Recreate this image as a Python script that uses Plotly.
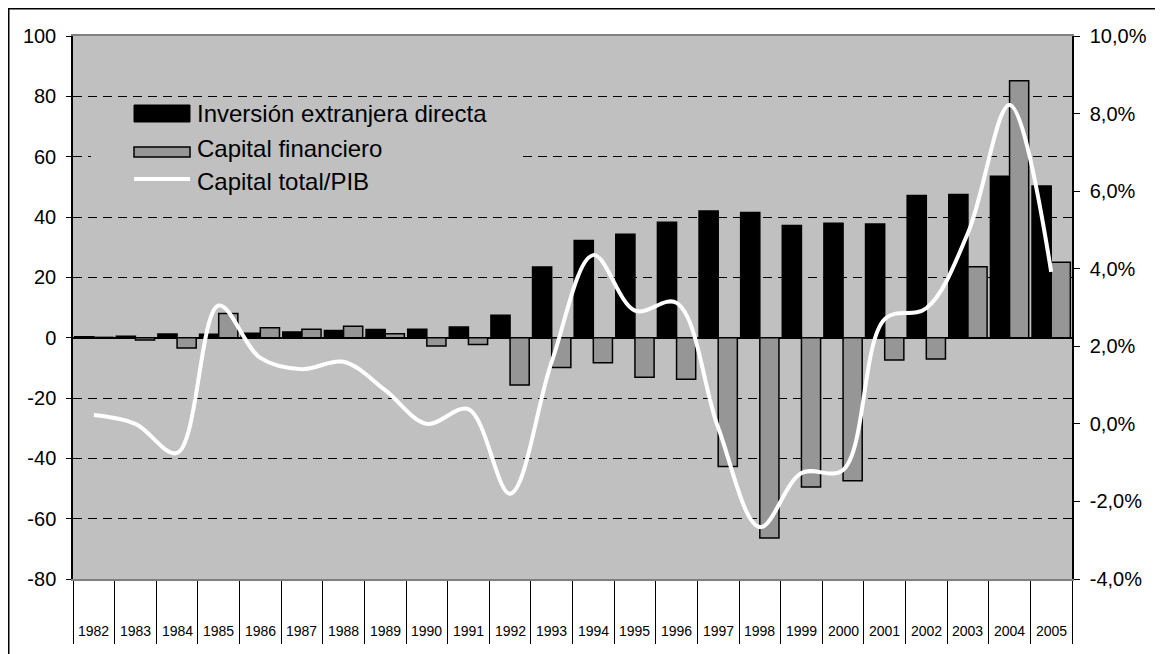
import plotly.graph_objects as go

years = [str(y) for y in range(1982, 2006)]
ied = [0.3, 0.5, 1.2, 1.1, 1.5, 1.9, 2.4, 2.7, 2.8, 3.5, 7.4, 23.4, 32.2, 34.3,
       38.3, 42.0, 41.5, 37.2, 37.9, 37.7, 47.1, 47.5, 53.5, 50.3]
cap_fin = [0.1, -0.8, -3.4, 8.0, 3.3, 2.8, 3.8, 1.3, -2.8, -2.3, -15.7, -9.9, -8.3,
           -13.1, -13.8, -42.7, -66.4, -49.5, -47.4, -7.4, -7.1, 23.5, 85.2, 25.0]
cap_total_pib = [0.23, 0.0, -0.75, 3.05, 1.7, 1.41, 1.6, 0.87, 0.0, 0.38, -1.8, 1.6,
                 4.35, 2.92, 3.12, -0.1, -2.66, -1.27, -1.19, 2.7, 2.98, 4.92, 8.22, 3.92]

left_ticks = [-80, -60, -40, -20, 0, 20, 40, 60, 80, 100]
left_labels = ["-80", "-60", "-40", "-20", "0", "20", "40", "60", "80", "100"]
right_ticks = [-4, -2, 0, 2, 4, 6, 8, 10]
right_labels = ["-4,0%", "-2,0%", "0,0%", "2,0%", "4,0%", "6,0%", "8,0%", "10,0%"]

names = ["Inversión extranjera directa", "Capital financiero", "Capital total/PIB"]

FONT = "Liberation Sans, Arial, sans-serif"
OFF = 8  # page body margin
W, H = 1155, 646
L, R, T, B = 65, 91, 28, 75
PW, PH = W - L - R, H - T - B


def px(x):  # screen x -> paper
    return (x - OFF - L) / PW


def py(y):  # screen y -> paper
    return (H - B - (y - OFF)) / PH


fig = go.Figure()
fig.add_trace(go.Bar(x=years, y=ied, name=names[0],
                     marker=dict(color="#000000", line=dict(color="#000000", width=1.5)), yaxis="y"))
fig.add_trace(go.Bar(x=years, y=cap_fin, name=names[1],
                     marker=dict(color="#969696", line=dict(color="#000000", width=1.5)), yaxis="y"))
fig.add_trace(go.Scatter(x=years, y=cap_total_pib, name=names[2], mode="lines",
                         line=dict(color="#FFFFFF", width=4, shape="spline", smoothing=1.0),
                         yaxis="y2"))

shapes = [
    # outer frame
    dict(type="rect", xref="paper", yref="paper", x0=(0.75 - L) / PW, x1=1.3, y0=-0.3,
         y1=(H - B - 0.75) / PH, line=dict(color="#000000", width=1.5), layer="above"),
    # legend background
    dict(type="rect", xref="paper", yref="paper", x0=px(91), x1=px(521), y0=py(192), y1=py(100),
         fillcolor="#C0C0C0", line=dict(width=0), layer="above"),
    dict(type="rect", xref="paper", yref="paper", x0=px(134), x1=px(190), y0=py(122), y1=py(105),
         fillcolor="#000000", line=dict(color="#000000", width=1), layer="above"),
    dict(type="rect", xref="paper", yref="paper", x0=px(134), x1=px(190), y0=py(157), y1=py(147),
         fillcolor="#969696", line=dict(color="#000000", width=1.5), layer="above"),
    dict(type="line", xref="paper", yref="paper", x0=px(134), x1=px(190), y0=py(179), y1=py(179),
         line=dict(color="#FFFFFF", width=4), layer="above"),
]

annotations = []
for name, yc in zip(names, [114, 148, 181]):
    annotations.append(dict(xref="paper", yref="paper", x=px(195), y=py(yc), text=name,
                            showarrow=False, xanchor="left", yanchor="middle",
                            font=dict(family=FONT, size=24, color="#000000")))
# category labels at the bottom, between the separators
for i, yr in enumerate(years):
    annotations.append(dict(xref="x", yref="paper", x=i, y=py(631), text=yr,
                            showarrow=False, xanchor="center", yanchor="middle",
                            font=dict(family=FONT, size=14, color="#000000")))

fig.update_layout(
    width=W, height=H,
    margin=dict(l=L, r=R, t=T, b=B, pad=0),
    paper_bgcolor="#FFFFFF", plot_bgcolor="#C0C0C0",
    barmode="group", bargap=0.08, bargroupgap=0.0,
    showlegend=False,
    font=dict(family=FONT, size=20, color="#000000"),
    xaxis=dict(type="category", range=[-0.5, len(years) - 0.5], tickson="boundaries",
               ticks="outside", ticklen=63,
               tickcolor="#000000", tickwidth=1, showticklabels=False,
               showline=True, linecolor="#808080", linewidth=2,
               mirror=True, showgrid=False, automargin=False),
    yaxis=dict(range=[-80, 100], tickvals=left_ticks, ticktext=left_labels,
               ticks="outside", ticklen=5, tickcolor="#000000", ticklabelstandoff=6,
               showline=True, linecolor="#000000", linewidth=1.5,
               showgrid=True, gridcolor="#000000", gridwidth=1, griddash="9px,6px",
               zeroline=True, zerolinecolor="#000000", zerolinewidth=1.5,
               automargin=False),
    yaxis2=dict(range=[-4, 10], tickvals=right_ticks, ticktext=right_labels,
                overlaying="y", side="right", ticks="outside", ticklen=6,
                tickcolor="#000000", ticklabelstandoff=6,
                showline=True, linecolor="#000000", linewidth=1.5,
                showgrid=False, zeroline=False, automargin=False),
    shapes=shapes, annotations=annotations,
)

fig.write_html("out.html")
